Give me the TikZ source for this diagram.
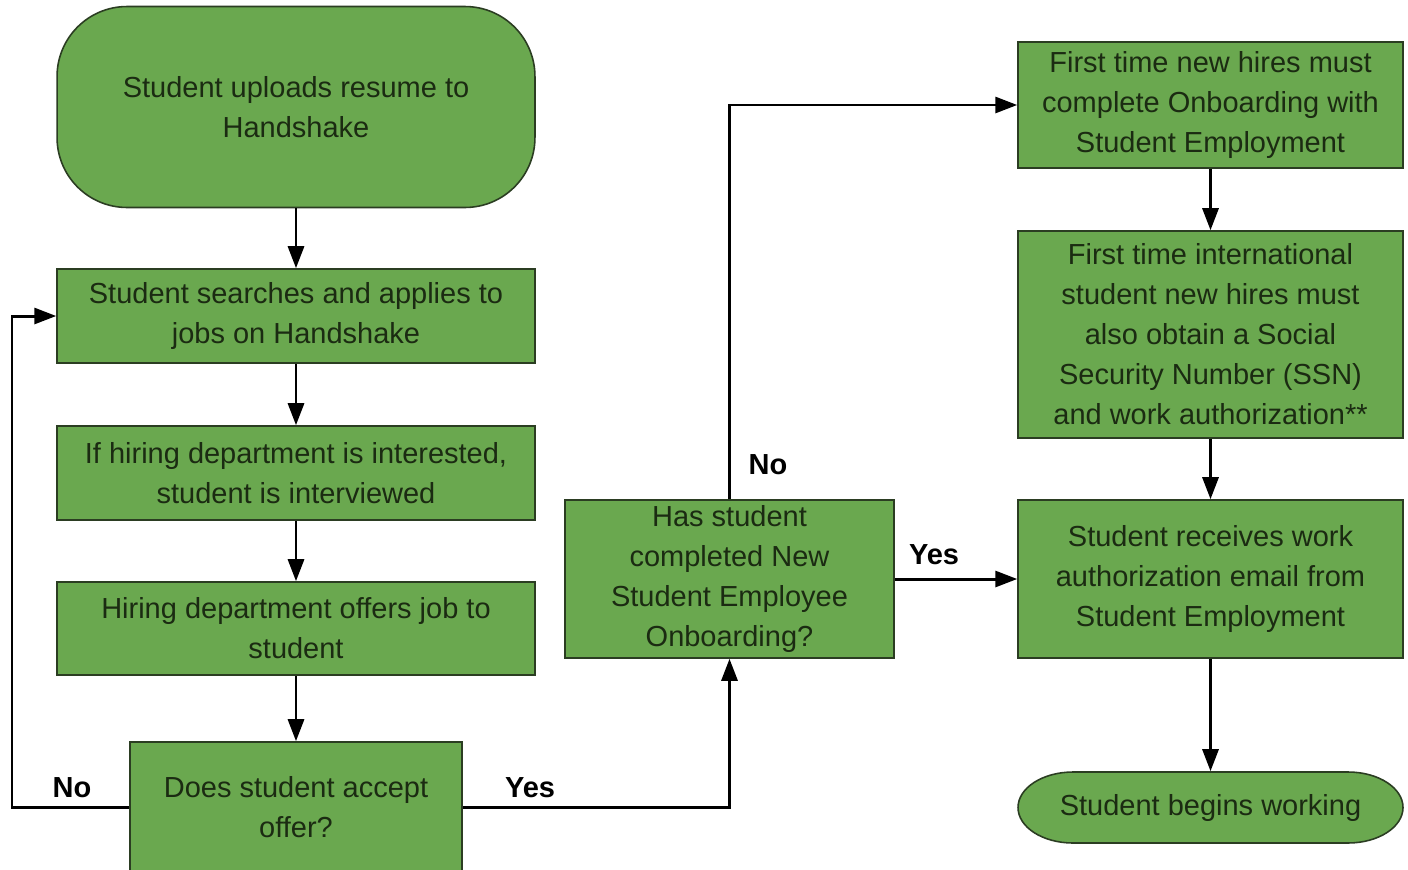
\documentclass[tikz,border=0pt]{standalone}
\usepackage{fontspec}
\setmainfont{Liberation Sans}
\usetikzlibrary{arrows.meta}
\definecolor{boxfill}{HTML}{6AA84F}
\definecolor{boxline}{HTML}{2B3D22}
\definecolor{boxtext}{HTML}{1B2B12}
\begin{document}
\begin{tikzpicture}[x=0.02cm,y=-0.02cm,
  box/.style={draw=boxline, line width=0.9pt, fill=boxfill, text=boxtext, align=center,
    font=\fontsize{16.5pt}{22.8pt}\selectfont, inner sep=0pt},
  arr/.style={line width=1.7pt, -{Triangle[length=0.44cm,width=0.32cm]}},
  lbl/.style={font=\fontsize{16.5pt}{20pt}\selectfont\bfseries, text=black, inner sep=0pt}]
\useasboundingbox (0,0) rectangle (1408,869);
\fill[white] (0,0) rectangle (1408,869);

\node[box, minimum width=9.56cm, minimum height=4.02cm, rounded corners=1.4cm] (start) at (296,107) {Student uploads resume to\\Handshake};
\node[box, minimum width=9.56cm, minimum height=1.88cm] (s2) at (296,316) {Student searches and applies to\\jobs on Handshake};
\node[box, minimum width=9.56cm, minimum height=1.88cm] (s3) at (296,473) {If hiring department is interested,\\student is interviewed};
\node[box, minimum width=9.56cm, minimum height=1.86cm] (s4) at (296,628.5) {Hiring department offers job to\\student};
\node[box, minimum width=6.64cm, minimum height=2.6cm] (s5) at (296,807) {Does student accept\\offer?};
\node[box, minimum width=6.58cm, minimum height=3.16cm] (s6) at (729.5,579) {Has student\\completed New\\Student Employee\\Onboarding?};
\node[box, minimum width=7.7cm, minimum height=2.52cm] (s7) at (1210.5,105) {First time new hires must\\complete Onboarding with\\Student Employment};
\node[box, minimum width=7.7cm, minimum height=4.14cm] (s8) at (1210.5,334.5) {First time international\\student new hires must\\also obtain a Social\\Security Number (SSN)\\and work authorization**};
\node[box, minimum width=7.7cm, minimum height=3.16cm] (s9) at (1210.5,579) {Student receives work\\authorization email from\\Student Employment};

% oval terminal with elliptical ends
\filldraw[draw=boxline, line width=0.9pt, fill=boxfill]
  (1073,772) -- (1348,772) arc[start angle=90, end angle=-90, x radius=1.1cm, y radius=0.71cm]
  -- (1073,843) arc[start angle=270, end angle=90, x radius=1.1cm, y radius=0.71cm] -- cycle;
\node[box, draw=none, fill=none, minimum width=7.7cm, minimum height=1.42cm] (end) at (1210.5,807.5) {Student begins working};

\coordinate (loop) at (12,0);

\draw[arr] (start) -- (s2);
\draw[arr] (s2) -- (s3);
\draw[arr] (s3) -- (s4);
\draw[arr] (s4) -- (s5);
\draw[arr] (s5.west) -- (s5.west -| loop) -- (s2.west -| loop) -- (s2.west);
\draw[arr] (s5.east) -| (s6.south);
\draw[arr] (s6.north) |- (s7.west);
\draw[arr] (s6.east) -- (s9.west);
\draw[arr] (s7) -- (s8);
\draw[arr] (s8) -- (s9);
\draw[arr] (s9) -- (end);

\node[lbl] (lno1) at (72,788) {No};
\node[lbl] (lyes1) at (530,788) {Yes};
\node[lbl] (lno2) at (768,465) {No};
\node[lbl] (lyes2) at (934,555) {Yes};
\end{tikzpicture}
\end{document}
